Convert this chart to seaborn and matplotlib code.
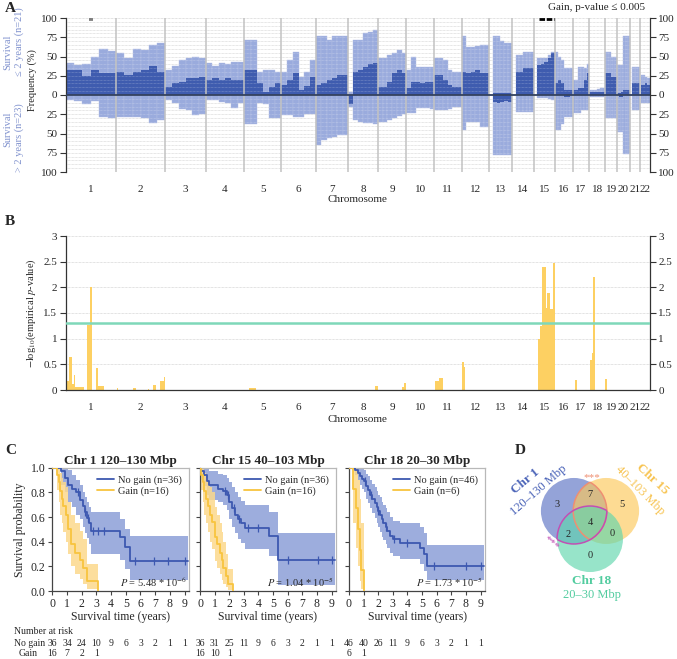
import numpy as np
import pandas as pd
import matplotlib
matplotlib.use('Agg')
import matplotlib.pyplot as plt
import matplotlib.transforms as mtransforms
import seaborn as sns
from matplotlib.patches import Circle, Arc
from matplotlib.ticker import FuncFormatter, MultipleLocator
from matplotlib.lines import Line2D

# ---- data: panel A (copy number frequency, 6 equal segments per chromosome) ----
chrom_names = ['1', '2', '3', '4', '5', '6', '7', '8', '9', '10', '11',
               '12', '13', '14', '15', '16', '17', '18', '19', '20', '21', '22']
chrom_len_mb = [249, 243, 198, 191, 181, 171, 159, 146, 141, 136, 135,
                134, 115, 107, 102, 90, 81, 78, 59, 63, 48, 51]

short_light = [
    [42, 39, 40, 50, 60, 57], [54, 48, 60, 58, 65, 67], [32, 38, 45, 48, 50, 48],
    [41, 38, 42, 40, 43, 43], [71, 71, 30, 32, 32, 30], [30, 45, 56, 24, 30, 45],
    [76, 76, 72, 76, 76, 76], [4, 71, 71, 80, 82, 85], [48, 48, 52, 54, 58, 54],
    [32, 50, 37, 37, 37, 37], [48, 48, 45, 32, 30, 30], [76, 62, 62, 64, 65, 65],
    [0, 76, 76, 70, 67, 67], [0, 52, 52, 56, 56, 56], [0, 48, 48, 48, 52, 56],
    [56, 50, 45, 35, 35, 35], [19, 19, 37, 37, 35, 40], [6, 6, 6, 8, 9, 9],
    [56, 56, 56, 50, 50, 50], [39, 39, 39, 76, 76, 76], [0, 37, 37, 37, 37, 37],
    [0, 26, 26, 24, 22, 22],
]
short_dark = [
    [33, 33, 25, 32, 28, 28], [30, 26, 30, 32, 38, 30], [11, 15, 17, 22, 22, 24],
    [20, 22, 20, 22, 20, 20], [32, 32, 15, 4, 11, 15], [13, 19, 28, 6, 12, 24],
    [13, 16, 19, 22, 26, 26], [0, 30, 33, 37, 40, 41], [11, 11, 17, 28, 33, 28],
    [9, 17, 17, 15, 17, 17], [26, 26, 20, 13, 11, 11], [30, 28, 30, 32, 28, 28],
    [0, 2, 2, 2, 2, 2], [0, 30, 30, 35, 35, 35], [0, 39, 40, 43, 48, 54],
    [15, 19, 15, 6, 6, 6], [6, 6, 9, 9, 19, 28], [4, 4, 4, 4, 4, 4],
    [28, 28, 28, 24, 24, 24], [2, 2, 4, 6, 6, 6], [0, 15, 15, 15, 15, 15],
    [0, 13, 13, 15, 13, 13],
]
long_light = [
    [6, 8, 12, 8, 28, 30], [28, 28, 28, 30, 37, 32], [6, 10, 18, 20, 26, 25],
    [6, 7, 9, 10, 17, 11], [38, 38, 10, 12, 30, 30], [26, 26, 28, 28, 25, 25],
    [65, 58, 56, 54, 52, 52], [15, 32, 35, 37, 37, 38], [35, 35, 33, 30, 27, 25],
    [24, 24, 17, 17, 17, 18], [20, 20, 20, 18, 15, 15], [45, 35, 35, 35, 41, 41],
    [0, 78, 78, 78, 78, 78], [0, 22, 22, 22, 22, 22], [0, 4, 4, 4, 5, 6],
    [45, 45, 38, 28, 28, 28], [24, 24, 24, 19, 19, 19], [2, 2, 2, 2, 2, 2],
    [30, 30, 30, 30, 30, 30], [48, 48, 48, 76, 76, 76], [0, 19, 19, 19, 19, 19],
    [0, 11, 11, 11, 11, 11],
]
long_dark = [[0] * 6 for _ in range(22)]
long_dark[7] = [12, 0, 0, 0, 0, 0]
long_dark[12] = [0, 9, 10, 9, 8, 9]
long_dark[15] = [0, 0, 0, 3, 3, 0]
long_dark[19] = [0, 3, 3, 0, 0, 0]

sig_chrom = [1, 1, 15]
sig_start = [118, 126, 25]
sig_end = [121, 130, 100]

# ---- data: panel B (-log10 empirical p) ----
b_chrom = [1, 1, 1, 1, 1, 1, 1, 1, 1, 2, 2, 2, 2, 2, 2, 5, 8, 9, 9, 11, 11, 12, 12,
           15, 15, 15, 15, 15, 15, 15, 17, 18, 18, 18, 19]
b_start = [5, 15, 30, 40, 45, 108, 120, 148, 158, 5, 82, 158, 180, 215, 238, 22, 133, 120, 130, 6, 26, 2, 10,
           20, 28, 40, 60, 66, 80, 92, 9, 5, 12, 20, 0]
b_end = [15, 30, 40, 45, 89, 120, 130, 158, 188, 10, 96, 163, 195, 238, 243, 57, 146, 130, 141, 26, 45, 10, 18,
         28, 40, 60, 66, 80, 92, 102, 19, 12, 20, 30, 8]
b_value = [0.17, 0.65, 0.12, 0.30, 0.05, 1.27, 2.0, 0.42, 0.08, 0.04, 0.03, 0.02, 0.10, 0.17, 0.25, 0.03, 0.08,
           0.05, 0.14, 0.17, 0.24, 0.55, 0.45, 1.0, 1.25, 2.4, 1.6, 1.88, 1.57, 2.47, 0.19, 0.58, 0.72, 2.2, 0.22]
threshold = 1.3

# ---- data: panel C (Kaplan-Meier) ----
km_titles = ['Chr 1 120–130 Mbp', 'Chr 15 40–103 Mbp', 'Chr 18 20–30 Mbp']
km_n_nogain = [36, 36, 46]
km_n_gain = [16, 16, 6]
km_pvals = [r'$P$ = 5.48 * 10$^{-6}$', r'$P$ = 1.04 * 10$^{-5}$', r'$P$ = 1.73 * 10$^{-5}$']

nogain_t = [
    [0, 0.6, 0.85, 1.1, 1.35, 1.6, 1.9, 2.1, 2.2, 2.35, 2.5, 2.65, 4.6, 4.95, 5.3, 9.25],
    [0, 0.1, 0.3, 0.5, 0.6, 1.25, 1.55, 1.85, 2.0, 2.2, 2.4, 2.6, 2.8, 3.05, 4.7, 5.3, 9.25],
    [0, 0.4, 0.6, 0.75, 0.9, 1.0, 1.15, 1.3, 1.45, 1.6, 1.75, 1.9, 2.0, 2.1, 2.25, 2.35, 2.5, 2.6,
     2.8, 3.0, 3.5, 4.85, 5.1, 5.3, 9.25],
]
nogain_s = [
    [1.0, 0.97, 0.92, 0.86, 0.83, 0.80, 0.74, 0.69, 0.64, 0.59, 0.55, 0.49, 0.44, 0.36, 0.24, 0.24],
    [1.0, 0.97, 0.94, 0.89, 0.86, 0.83, 0.81, 0.78, 0.72, 0.67, 0.62, 0.58, 0.55, 0.51, 0.45, 0.25, 0.25],
    [1.0, 0.98, 0.96, 0.93, 0.91, 0.89, 0.85, 0.82, 0.78, 0.75, 0.71, 0.68, 0.65, 0.62, 0.58, 0.55,
     0.52, 0.49, 0.45, 0.42, 0.39, 0.35, 0.30, 0.20, 0.20],
]
nogain_lo = [
    [1.0, 0.86, 0.80, 0.72, 0.68, 0.62, 0.58, 0.52, 0.47, 0.43, 0.38, 0.30, 0.25, 0.18, 0.09, 0.09],
    [1.0, 0.90, 0.85, 0.78, 0.74, 0.72, 0.70, 0.66, 0.58, 0.52, 0.47, 0.42, 0.39, 0.34, 0.28, 0.05, 0.05],
    [1.0, 0.94, 0.90, 0.86, 0.83, 0.80, 0.75, 0.71, 0.67, 0.63, 0.59, 0.55, 0.52, 0.48, 0.44, 0.41,
     0.38, 0.35, 0.31, 0.28, 0.26, 0.22, 0.16, 0.09, 0.09],
]
nogain_hi = [
    [1.0, 1.0, 1.0, 0.98, 0.94, 0.90, 0.86, 0.80, 0.76, 0.72, 0.68, 0.64, 0.58, 0.50, 0.45, 0.45],
    [1.0, 1.0, 1.0, 1.0, 0.97, 0.95, 0.94, 0.92, 0.88, 0.84, 0.80, 0.76, 0.73, 0.70, 0.64, 0.47, 0.47],
    [1.0, 1.0, 1.0, 1.0, 0.99, 0.98, 0.95, 0.93, 0.90, 0.87, 0.84, 0.81, 0.78, 0.76, 0.72, 0.70,
     0.67, 0.64, 0.60, 0.57, 0.55, 0.52, 0.47, 0.37, 0.37],
]
nogain_cens = [
    [1.75, 2.2, 2.4, 2.8, 3.1, 3.5, 5.6, 6.9, 7.9, 9.0],
    [1.7, 1.9, 2.3, 2.7, 3.3, 4.0, 6.0, 8.1, 9.0],
    [1.1, 1.5, 2.0, 2.5, 3.1, 4.0, 5.8, 8.0, 9.0],
]
gain_t = [
    [0, 0.3, 0.45, 0.55, 0.65, 0.75, 0.9, 1.1, 1.3, 1.55, 1.9, 2.1, 2.35, 3.1],
    [0, 0.1, 0.2, 0.3, 0.4, 0.55, 0.7, 0.85, 1.0, 1.15, 1.35, 1.5, 1.6, 1.75, 1.9, 2.25],
    [0, 0.3, 0.5, 0.6, 0.75, 0.85, 1.0],
]
gain_s = [
    [1.0, 0.94, 0.88, 0.81, 0.75, 0.69, 0.62, 0.50, 0.38, 0.31, 0.25, 0.19, 0.08, 0.0],
    [1.0, 0.94, 0.88, 0.81, 0.75, 0.69, 0.62, 0.56, 0.44, 0.38, 0.31, 0.25, 0.19, 0.12, 0.06, 0.0],
    [1.0, 0.83, 0.67, 0.50, 0.33, 0.17, 0.0],
]
gain_lo = [
    [1.0, 0.82, 0.72, 0.62, 0.55, 0.48, 0.40, 0.30, 0.20, 0.14, 0.10, 0.06, 0.02, 0.0],
    [1.0, 0.82, 0.72, 0.62, 0.55, 0.48, 0.40, 0.34, 0.24, 0.19, 0.14, 0.09, 0.06, 0.03, 0.01, 0.0],
    [1.0, 0.55, 0.35, 0.20, 0.08, 0.02, 0.0],
]
gain_hi = [
    [1.0, 1.0, 1.0, 0.96, 0.92, 0.88, 0.84, 0.72, 0.62, 0.55, 0.49, 0.42, 0.22, 0.0],
    [1.0, 1.0, 1.0, 0.96, 0.92, 0.88, 0.84, 0.80, 0.68, 0.62, 0.55, 0.48, 0.40, 0.30, 0.18, 0.0],
    [1.0, 1.0, 1.0, 0.90, 0.75, 0.55, 0.0],
]
risk_nogain = [
    [36, 34, 24, 10, 9, 6, 3, 2, 1, 1],
    [36, 31, 25, 11, 9, 6, 3, 2, 1, 1],
    [46, 40, 26, 11, 9, 6, 3, 2, 1, 1],
]
risk_gain = [[16, 7, 2, 1], [16, 10, 1], [6, 1]]

# ---- data: panel D (Venn counts) ----
venn_names = ['Chr 1', 'Chr 15', 'Chr 18']
venn_ranges = ['120–130 Mbp', '40–103 Mbp', '20–30 Mbp']
venn_counts = {'100': 3, '010': 5, '001': 0, '110': 7, '101': 2, '011': 0, '111': 4}

# ---- style ----
C_LIGHT = '#9aabdd'
C_DARK = '#3f5caf'
C_LABEL = '#7e90cd'
C_YEL = '#fdd062'
C_MINT = '#7fd8b9'
KM_BLUE = '#3d58b0'
KM_YEL = '#f8c43e'

sns.set_style('white')
plt.rcParams['font.family'] = ['Liberation Serif', 'DejaVu Serif']
plt.rcParams['mathtext.fontset'] = 'stix'

W, H = 677, 659
fig = plt.figure(figsize=(W / 100, H / 100), dpi=100)


def px_axes(l, t, r, b):
    return fig.add_axes([l / W, 1 - b / H, (r - l) / W, (b - t) / H])


def ftext(x, y, s, **kw):
    return fig.text(x / W, 1 - y / H, s, **kw)


starts = np.concatenate([[0], np.cumsum(chrom_len_mb)[:-1]])
centers = starts + np.array(chrom_len_mb) / 2
total = float(np.sum(chrom_len_mb))

# ================= Panel A =================
axA = px_axes(65.5, 18, 650, 172)
for i, L in enumerate(chrom_len_mb):
    n = len(short_light[i])
    w = L / n
    xs = starts[i] + np.arange(n) * w
    axA.bar(xs, short_light[i], width=w, align='edge', color=C_LIGHT, edgecolor='#b3c0e6', linewidth=0.3, zorder=1)
    axA.bar(xs, short_dark[i], width=w, align='edge', color=C_DARK, linewidth=0, zorder=1.2)
    axA.bar(xs, -np.array(long_light[i]), width=w, align='edge', color=C_LIGHT, edgecolor='#b3c0e6',
            linewidth=0.3, zorder=1)
    axA.bar(xs, -np.array(long_dark[i]), width=w, align='edge', color=C_DARK, linewidth=0, zorder=1.2)

axA.set_xlim(0, total)
axA.set_ylim(-100, 100)
axA.set_yticks(np.arange(-100, 101, 25))
axA.yaxis.set_minor_locator(MultipleLocator(5))
axA.yaxis.set_major_formatter(FuncFormatter(lambda v, p: f'{abs(int(v))}'))
axA.grid(axis='y', which='both', color='#c6c6c6', lw=0.5, ls=(0, (1, 1)), zorder=0)
axA.set_axisbelow(True)
# faint light dotted lines across the bars as in the source figure
for yv in np.arange(-95, 100, 5):
    axA.axhline(yv, color='white', alpha=0.35, lw=0.5, ls=(0, (1, 1)), zorder=1.5)
for b in starts[1:]:
    axA.axvline(b, color='#c2c2c2', lw=1.1, zorder=3)
axA.axhline(0, color='#34425f', lw=1.3, zorder=4)
for c, s0, s1 in zip(sig_chrom, sig_start, sig_end):
    axA.hlines(98.5, starts[c - 1] + s0, starts[c - 1] + s1, color='black', lw=2.0,
               linestyles=(0, (2, 0.6)), zorder=5, clip_on=False)
axA.set_xticks(centers)
axA.set_xticklabels(chrom_names)
axA.tick_params(axis='x', bottom=False, labelsize=8, pad=6)
axA.tick_params(axis='y', which='major', left=True, right=True, labelleft=True, labelright=True,
                direction='out', length=4, width=0.8, labelsize=8, pad=2, color='#333333')
axA.tick_params(axis='y', which='minor', length=0)
for side in ['top', 'bottom']:
    axA.spines[side].set_visible(False)
for side in ['left', 'right']:
    axA.spines[side].set_color('#333333')
    axA.spines[side].set_linewidth(0.9)
ftext(645, 8, 'Gain, p-value ≤ 0.005', ha='right', va='center', fontsize=8)
ftext(357.75, 200, 'Chromosome', ha='center', va='center', fontsize=8)
ftext(8, 52, 'Survival', rotation=90, ha='center', va='center', fontsize=7.5, color=C_LABEL)
ftext(19, 42, '≤ 2 years (n=21)', rotation=90, ha='center', va='center', fontsize=7.5, color=C_LABEL)
ftext(8, 129, 'Survival', rotation=90, ha='center', va='center', fontsize=7.5, color=C_LABEL)
ftext(19, 138, '> 2 years (n=23)', rotation=90, ha='center', va='center', fontsize=7.5, color=C_LABEL)
ftext(32, 80, 'Frequency (%)', rotation=90, ha='center', va='center', fontsize=7.5)

# ================= Panel B =================
axB = px_axes(65.5, 236, 650, 390)
bx0 = np.array([starts[c - 1] + s for c, s in zip(b_chrom, b_start)])
bw = np.array(b_end) - np.array(b_start)
axB.bar(bx0, b_value, width=bw, align='edge', color=C_YEL, linewidth=0, zorder=2)
axB.axhline(threshold, color=C_MINT, lw=1.8, zorder=3)
axB.set_xlim(0, total)
axB.set_ylim(0, 3)
axB.set_yticks(np.arange(0, 3.01, 0.5))
axB.yaxis.set_major_formatter(FuncFormatter(lambda v, p: f'{v:g}'))
axB.grid(axis='y', color='#c6c6c6', lw=0.5, ls=(0, (1, 1)))
axB.set_axisbelow(True)
axB.set_xticks(centers)
axB.set_xticklabels(chrom_names)
axB.tick_params(axis='x', bottom=False, labelsize=8, pad=6)
axB.tick_params(axis='y', left=True, right=True, labelleft=True, labelright=True,
                direction='out', length=4, width=0.8, labelsize=8, pad=2, color='#333333')
axB.spines['top'].set_visible(False)
for side in ['left', 'right', 'bottom']:
    axB.spines[side].set_color('#333333')
    axB.spines[side].set_linewidth(0.9)
ftext(357.75, 419, 'Chromosome', ha='center', va='center', fontsize=8)
ftext(31, 313, r'$-$log$_{10}$(empirical $p$-value)', rotation=90, ha='center', va='center', fontsize=7.5)

# ================= Panel C =================
c_boxes = [(52.3, 189), (200, 336), (349, 485)]
for k, (l, r) in enumerate(c_boxes):
    ax = px_axes(l, 467.7, r, 591)
    ax.fill_between(nogain_t[k], nogain_lo[k], nogain_hi[k], step='post', color='#8c9fd8', alpha=0.85,
                    lw=0, zorder=1)
    ax.fill_between(gain_t[k], gain_lo[k], gain_hi[k], step='post', color='#fcd98c', alpha=0.85,
                    lw=0, zorder=1.1)
    df = pd.concat([
        pd.DataFrame({'time': nogain_t[k], 'surv': nogain_s[k], 'group': 'No gain'}),
        pd.DataFrame({'time': gain_t[k], 'surv': gain_s[k], 'group': 'Gain'}),
    ])
    sns.lineplot(data=df, x='time', y='surv', hue='group', palette={'No gain': KM_BLUE, 'Gain': KM_YEL},
                 estimator=None, sort=False, drawstyle='steps-post', linewidth=1.3, legend=False,
                 ax=ax, zorder=3)
    t_arr = np.array(nogain_t[k])
    s_arr = np.array(nogain_s[k])
    cy = s_arr[np.searchsorted(t_arr, nogain_cens[k], side='right') - 1]
    ax.plot(nogain_cens[k], cy, ls='none', marker='|', ms=6, mew=0.9, color=KM_BLUE, zorder=4)

    ax.set_xlim(0, 9.3)
    ax.set_ylim(0, 1.0)
    ax.set_xticks(range(10))
    ax.set_yticks(np.arange(0, 1.01, 0.2))
    ax.set_xlabel('Survival time (years)', fontsize=8.5, labelpad=1)
    if k == 0:
        ax.set_yticklabels([f'{v:.1f}' for v in np.arange(0, 1.01, 0.2)])
        ax.set_ylabel('Survival probability', fontsize=8.5, labelpad=3)
    else:
        ax.set_yticklabels([])
        ax.set_ylabel('')
    ax.tick_params(left=True, bottom=True, direction='out', length=3, width=0.8, labelsize=8.5, pad=2,
                   color='#444444')
    for side in ['left', 'bottom']:
        ax.spines[side].set_color('#444444')
        ax.spines[side].set_linewidth(0.9)
    for side in ['top', 'right']:
        ax.spines[side].set_color('#b8b8b8')
        ax.spines[side].set_linewidth(0.9)
    ax.set_title(km_titles[k], fontweight='bold', fontsize=9.5, pad=3)
    handles = [Line2D([], [], color=KM_BLUE, lw=1.3), Line2D([], [], color=KM_YEL, lw=1.3)]
    ax.legend(handles, [f'No gain (n={km_n_nogain[k]})', f'Gain (n={km_n_gain[k]})'], loc='upper right',
              frameon=False, fontsize=7.5, handlelength=1.6, handletextpad=0.4, labelspacing=0.15,
              borderaxespad=0.3)
    ax.text(0.985, 0.02, km_pvals[k], transform=ax.transAxes, ha='right', va='bottom', fontsize=7.5)

    trans = mtransforms.blended_transform_factory(ax.transData, fig.transFigure)
    for j, nval in enumerate(risk_nogain[k]):
        ax.text(j, 1 - 643 / H, str(nval), transform=trans, ha='center', va='center', fontsize=7)
    for j, nval in enumerate(risk_gain[k]):
        ax.text(j, 1 - 654 / H, str(nval), transform=trans, ha='center', va='center', fontsize=7)

ftext(14, 631, 'Number at risk', ha='left', va='center', fontsize=7)
ftext(14, 643, 'No gain', ha='left', va='center', fontsize=7)
ftext(38, 654, 'Gain', ha='right', va='center', fontsize=7)

# ================= Panel D =================
axD = px_axes(505, 440, 677, 610)
axD.set_xlim(-2.58, 2.64)
axD.set_ylim(-2.71, 2.44)
axD.axis('off')
v_centers = [(-0.49, 0.29), (0.49, 0.29), (0.0, -0.56)]
v_colors = ['#5b72c4', '#fcc85a', '#5fd6ad']
v_text = ['#4a63b8', '#f7c350', '#52cc9f']
for (cx, cy), col in zip(v_centers, v_colors):
    axD.add_patch(Circle((cx, cy), 1.0, facecolor=col, alpha=0.65, lw=0))


def lens(i, j, color):
    c1, c2 = np.array(v_centers[i]), np.array(v_centers[j])
    d = np.linalg.norm(c2 - c1)
    phi = np.degrees(np.arctan2(*(c2 - c1)[::-1]))
    a = np.degrees(np.arccos(d / 2))
    axD.add_patch(Arc(c1, 2, 2, theta1=phi - a, theta2=phi + a, color=color, lw=1.1))
    axD.add_patch(Arc(c2, 2, 2, theta1=phi + 180 - a, theta2=phi + 180 + a, color=color, lw=1.1))


lens(0, 1, '#ef8f72')
lens(0, 2, '#c24fb4')

region_pos = {'100': (-1.01, 0.49), '110': (0.0, 0.80), '010': (0.96, 0.49), '111': (0.0, -0.05),
              '101': (-0.66, -0.42), '011': (0.66, -0.38), '001': (0.0, -1.06)}
for key, val in venn_counts.items():
    axD.text(*region_pos[key], str(val), ha='center', va='center', fontsize=7.5)
axD.text(0.05, 1.31, '***', color='#ef8f72', ha='center', va='center', fontsize=8)
axD.text(-1.16, -0.67, '***', color='#c24fb4', ha='center', va='center', fontsize=8, rotation=-40)

axD.text(-1.97, 1.18, venn_names[0], color=v_text[0], fontweight='bold', fontsize=9.5, rotation=40,
         ha='center', va='center')
axD.text(-1.55, 0.91, venn_ranges[0], color=v_text[0], fontsize=9, rotation=41, ha='center', va='center')
axD.text(1.89, 1.26, venn_names[1], color=v_text[1], fontweight='bold', fontsize=9.5, rotation=-43,
         ha='center', va='center')
axD.text(1.52, 0.91, venn_ranges[1], color=v_text[1], fontsize=9, rotation=-45, ha='center', va='center')
axD.text(0.05, -1.83, venn_names[2], color=v_text[2], fontweight='bold', fontsize=9.5, ha='center', va='center')
axD.text(0.05, -2.25, venn_ranges[2], color=v_text[2], fontsize=9, ha='center', va='center')

# panel letters
for lbl, (x, y) in zip('ABCD', [(5, 8), (5, 221), (5, 451), (515, 451)]):
    ftext(x, y, lbl, fontweight='bold', fontsize=11, va='center', ha='left')

fig.savefig('out.png', dpi=100)
